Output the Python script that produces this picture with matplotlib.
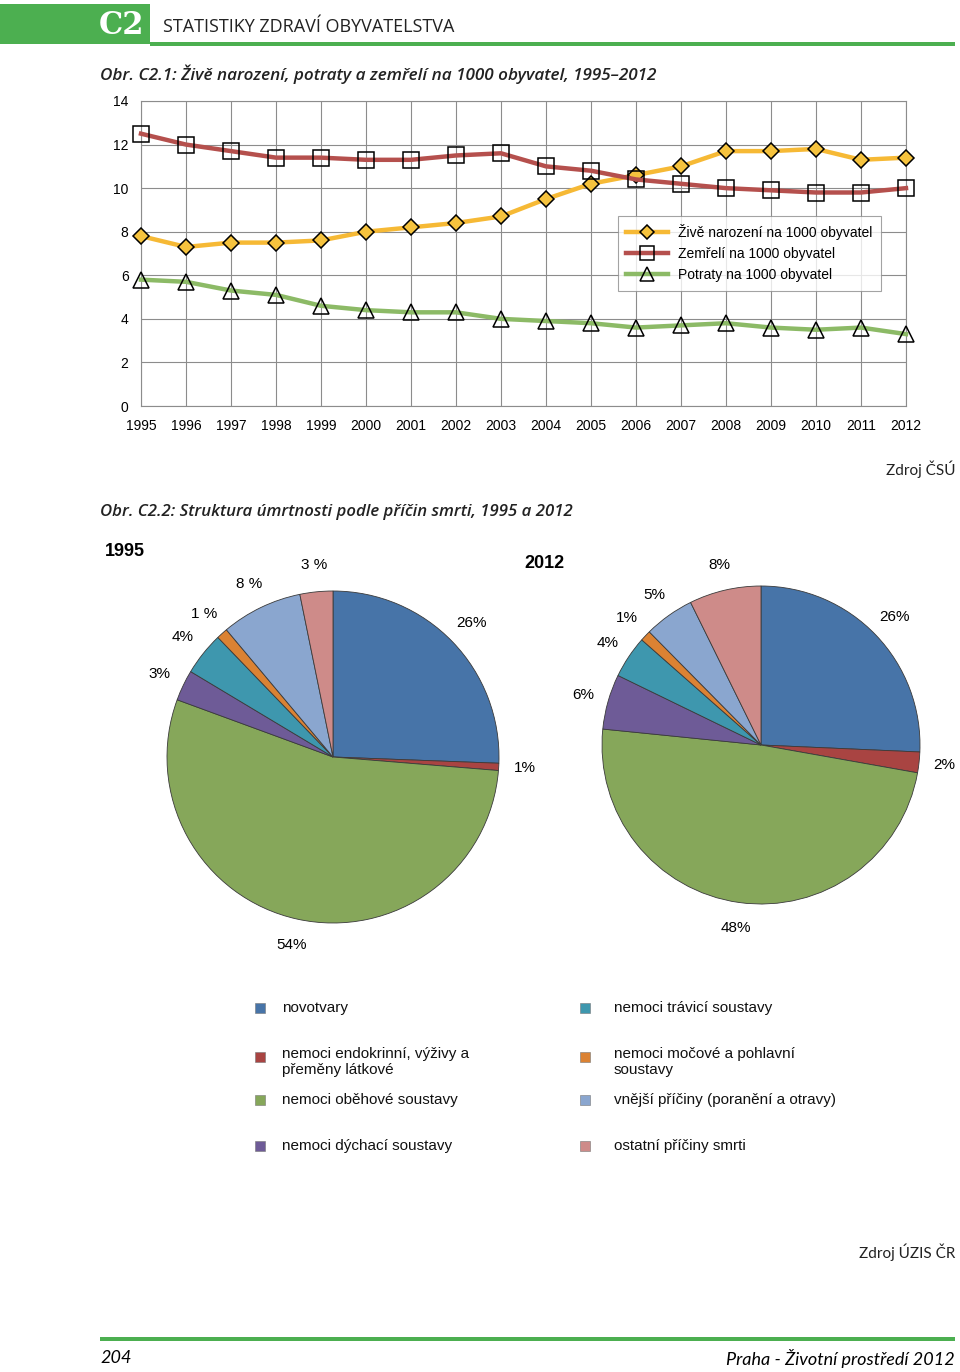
import matplotlib.pyplot as plt
import numpy as np
from matplotlib.patches import Rectangle

# data: line chart (per 1000 inhabitants)
years = list(range(1995, 2013))
births = [7.8, 7.3, 7.5, 7.5, 7.6, 8.0, 8.2, 8.4, 8.7, 9.5, 10.2, 10.6, 11.0, 11.7, 11.7, 11.8, 11.3, 11.4]
deaths = [12.5, 12.0, 11.7, 11.4, 11.4, 11.3, 11.3, 11.5, 11.6, 11.0, 10.8, 10.4, 10.2, 10.0, 9.9, 9.8, 9.8, 10.0]
abortions = [5.8, 5.7, 5.3, 5.1, 4.6, 4.4, 4.3, 4.3, 4.0, 3.9, 3.8, 3.6, 3.7, 3.8, 3.6, 3.5, 3.6, 3.3]
series_names = ["Živě narození na 1000 obyvatel", "Zemřelí na 1000 obyvatel", "Potraty na 1000 obyvatel"]

# data: causes of death structure
causes = ["novotvary", "nemoci endokrinní, výživy a\npřeměny látkové", "nemoci oběhové soustavy",
          "nemoci dýchací soustavy", "nemoci trávicí soustavy", "nemoci močové a pohlavní\nsoustavy",
          "vnější příčiny (poranění a otravy)", "ostatní příčiny smrti"]
share_1995 = [25.6, 0.7, 54.3, 3.0, 4.2, 1.1, 7.9, 3.2]
share_2012 = [25.7, 2.1, 48.8, 5.6, 4.3, 1.1, 5.1, 7.3]
labels_1995 = ["26%", "1%", "54%", "3%", "4%", "1 %", "8 %", "3 %"]
labels_2012 = ["26%", "2%", "48%", "6%", "4%", "1%", "5%", "8%"]
pie_colors = ["#4774A8", "#A94442", "#86A75A", "#6E5B97", "#3E97AE", "#DB8233", "#8AA6CF", "#CE8B89"]

W, H = 960, 1372
GREEN = "#4CAF50"
fig = plt.figure(figsize=(W / 100, H / 100), dpi=100)
plt.rcParams['font.family'] = ['Liberation Sans', 'DejaVu Sans']


def px_axes(x0, y0, x1, y1):
    # axes from pixel box (top-left origin)
    return fig.add_axes([x0 / W, 1 - y1 / H, (x1 - x0) / W, (y1 - y0) / H])


# decoration layer
deco = fig.add_axes([0, 0, 1, 1])
deco.set_xlim(0, W)
deco.set_ylim(H, 0)
deco.axis("off")
deco.add_patch(Rectangle((0, 4), 150, 40, color=GREEN, lw=0))
deco.add_patch(Rectangle((150, 42), 805, 4, color=GREEN, lw=0))
deco.text(121, 26, "C2", color="white", fontsize=22, fontweight="bold", family="DejaVu Serif",
          ha="center", va="center")
deco.text(163, 27, "STATISTIKY ZDRAVÍ OBYVATELSTVA", fontsize=13, family="Open Sans",
          ha="left", va="center", color="#222222")
deco.text(100, 74, "Obr. C2.1: Živě narození, potraty a zemřelí na 1000 obyvatel, 1995–2012",
          fontsize=12.3, family="Open Sans", style="italic", fontweight="semibold",
          ha="left", va="center", color="#222222")
deco.text(955, 469, "Zdroj ČSÚ", fontsize=11, family="Lato", ha="right", va="center", color="#222222")
deco.text(100, 512, "Obr. C2.2: Struktura úmrtnosti podle příčin smrti, 1995 a 2012",
          fontsize=12.1, family="Open Sans", style="italic", fontweight="semibold",
          ha="left", va="center", color="#222222")
deco.text(105, 552, "1995", fontsize=13, fontweight="bold", ha="left", va="center")
deco.text(524, 564, "2012", fontsize=13, fontweight="bold", ha="left", va="center")
deco.text(955, 1252, "Zdroj ÚZIS ČR", fontsize=11, family="Lato", ha="right", va="center", color="#222222")
deco.add_patch(Rectangle((100, 1337), 855, 4, color=GREEN, lw=0))
deco.text(100, 1358, "204", fontsize=13, family="Lato", style="italic", ha="left", va="center")
deco.text(955, 1358, "Praha - Životní prostředí 2012", fontsize=13, family="Lato", style="italic",
          ha="right", va="center")

# legend of the pies (two columns, column-major like the source)
rows_y = [1008, 1062, 1100, 1146]
for i, (name, col) in enumerate(zip(causes, pie_colors)):
    cx = 255 if i < 4 else 580
    tx = 282 if i < 4 else 614
    ry = rows_y[i % 4]
    sq_y = ry - 5 if "\n" not in name else ry - 10
    deco.add_patch(Rectangle((cx, sq_y), 10, 10, facecolor=col, edgecolor="#777777", lw=0.4))
    deco.text(tx, ry, name, fontsize=11, ha="left", va="center", linespacing=1.15, color="#111111")

# line chart
ax = px_axes(141, 101, 906, 406)
ax.plot(years, births, color="#F6B935", lw=3.2, marker="D", ms=8, mfc="#F6C33E", mec="black", mew=1.1,
        label=series_names[0], zorder=3)
ax.plot(years, deaths, color="#B5504D", lw=3.2, marker="s", ms=11, mfc="none", mec="black", mew=1.1,
        label=series_names[1], zorder=3)
ax.plot(years, abortions, color="#8CBA66", lw=3.2, marker="^", ms=11, mfc="none", mec="black", mew=1.1,
        label=series_names[2], zorder=3)
ax.set_xlim(1995, 2012)
ax.set_ylim(0, 14)
ax.set_xticks(years)
ax.set_yticks(range(0, 15, 2))
ax.tick_params(length=0, labelsize=10, pad=9)
ax.grid(True, color="#8C8C8C", lw=0.8)
for sp in ax.spines.values():
    sp.set_color("#8C8C8C")
    sp.set_linewidth(0.8)
ax.set_axisbelow(True)
for m in ax.lines:
    m.set_clip_on(False)
leg = ax.legend(loc="upper left", bbox_to_anchor=((618 - 141) / 765, (406 - 216) / 305), borderaxespad=0,
                fancybox=False, edgecolor="#8C8C8C", fontsize=10, handlelength=3.0, handletextpad=0.75,
                labelspacing=0.5, borderpad=0.6, markerscale=0.9)
leg.get_frame().set_linewidth(0.8)


def draw_pie(cx, cy, r, values, labels):
    s = r * 1.35
    pa = px_axes(cx - s, cy - s, cx + s, cy + s)
    wedges, _ = pa.pie(values, colors=pie_colors, startangle=90, counterclock=False,
                       wedgeprops=dict(edgecolor="#3A3A3A", linewidth=0.6))
    for w, lab in zip(wedges, labels):
        ang = np.deg2rad((w.theta1 + w.theta2) / 2)
        pa.text(1.16 * np.cos(ang), 1.16 * np.sin(ang), lab, ha="center", va="center", fontsize=11)
    pa.set_xlim(-1.35, 1.35)
    pa.set_ylim(-1.35, 1.35)
    pa.axis("off")


draw_pie(333, 757, 166, share_1995, labels_1995)
draw_pie(761, 745, 159, share_2012, labels_2012)

fig.savefig("out.png", dpi=100)
